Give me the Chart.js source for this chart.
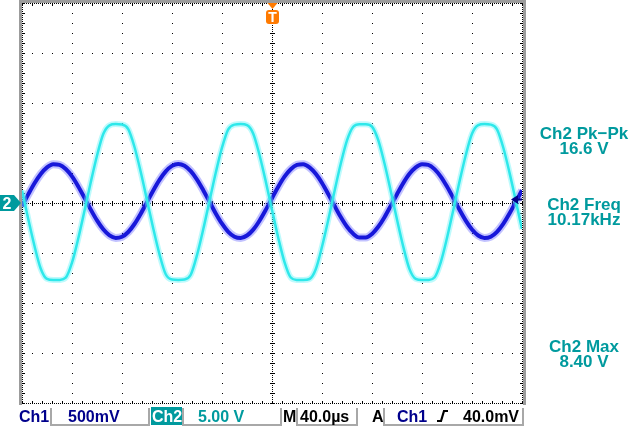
<!DOCTYPE html>
<html>
<head>
<meta charset="utf-8">
<title>Ch1 / Ch2</title>
<script src="https://cdn.jsdelivr.net/npm/chart.js@4.4.1/dist/chart.umd.min.js"></script>
<style>
  html, body { margin:0; padding:0; background:#fff; }
  canvas { display:block; }
</style>
</head>
<body>
<canvas id="scope" width="640" height="429"></canvas>
<script>
// tiempo en microsegundos (40 us/div, disparo en 0)
var tiempos = [-200,-195,-190,-185,-180,-175,-170,-165,-160,-155,-150,-145,-140,-135,-130,-125,-120,-115,-110,-105,
  -100,-95,-90,-85,-80,-75,-70,-65,-60,-55,-50,-45,-40,-35,-30,-25,-20,-15,-10,-5,
  0,5,10,15,20,25,30,35,40,45,50,55,60,65,70,75,80,85,90,95,
  100,105,110,115,120,125,130,135,140,145,150,155,160,165,170,175,180,185,190,195,200];

// Ch1 en mV (500 mV/div)
var ch1 = [-32,86,197,290,356,388,382,340,266,166,52,-66,-174,-263,-324,-349,-338,-290,-210,-107,
  8,125,231,316,371,390,372,318,234,128,12,-104,-207,-288,-337,-350,-325,-266,-177,-69,
  48,163,263,338,381,388,357,292,200,89,-28,-141,-238,-308,-345,-345,-309,-238,-142,-29,
  88,199,292,357,388,382,339,264,164,50,-68,-176,-265,-325,-350,-337,-288,-208,-105,11,127];

// Ch2 en V (5.00 V/div)
var ch2 = [1.26,-1.60,-4.30,-6.57,-7.59,-7.70,-7.69,-7.47,-5.97,-3.55,-0.77,2.08,4.73,6.89,7.77,7.89,7.85,7.39,5.60,3.10,
  0.29,-2.55,-5.14,-7.13,-7.66,-7.70,-7.66,-7.17,-5.21,-2.63,0.20,3.02,5.53,7.36,7.84,7.89,7.78,6.93,4.80,2.16,
  -0.69,-3.47,-5.91,-7.45,-7.69,-7.70,-7.60,-6.62,-4.38,-1.69,1.18,3.92,6.27,7.63,7.88,7.88,7.64,6.29,3.95,1.20,
  -1.66,-4.36,-6.61,-7.59,-7.70,-7.69,-7.45,-5.93,-3.50,-0.72,2.14,4.78,6.92,7.78,7.89,7.84,7.37,5.55,3.04,0.23,-2.61];

var divTiempo = [-200,-160,-120,-80,-40,0,40,80,120,160,200];
var divCh1 = [-2000,-1500,-1000,-500,0,500,1000,1500,2000];
var nivelDisparo = 40; // mV

var medidas = [
  ["Ch2 Pk\u2212Pk", "16.6 V"],
  ["Ch2 Freq", "10.17kHz"],
  ["Ch2 Max", "8.40 V"]
];

function puntos(ys){
  return tiempos.map(function(t, i){ return {x: t, y: ys[i]}; });
}

var AZUL = "#1818da", CIAN = "#2ee8ea", TEAL = "#009a9e", NAVY = "#00008c";

var reticula = {
  id: "reticula",
  beforeDraw: function(chart){
    var ctx = chart.ctx;
    ctx.save();
    ctx.fillStyle = "#fff";
    ctx.fillRect(0, 0, chart.width, chart.height);
    ctx.restore();
  },
  beforeDatasetsDraw: function(chart){
    var ctx = chart.ctx, sx = chart.scales.x, sy = chart.scales.y1;
    var L = Math.round(sx.getPixelForValue(sx.min)), R = Math.round(sx.getPixelForValue(sx.max));
    var T = Math.round(sy.getPixelForValue(sy.max)), B = Math.round(sy.getPixelForValue(sy.min));
    function dot(x, y, w, h){ ctx.fillRect(Math.round(x), Math.round(y), w || 1, h || 1); }
    var k, px, py;
    ctx.save();

    // marco gris
    ctx.fillStyle = "#9c9c9c";
    ctx.fillRect(L - 3, 0, 3, B + 2);
    ctx.fillRect(L - 3, 0, R - L + 6, T);
    ctx.fillRect(R + 1, 0, 3, B + 2);

    ctx.fillStyle = "#000";
    // lineas de division punteadas
    divTiempo.forEach(function(t){
      if (t === sx.min || t === sx.max || t === 0) return;
      px = sx.getPixelForValue(t);
      for (k = 0; k <= 40; k++) dot(px, sy.getPixelForValue(sy.min + k * 100));
    });
    divCh1.forEach(function(v){
      if (v === sy.min || v === sy.max || v === 0) return;
      py = sy.getPixelForValue(v);
      for (k = 0; k <= 50; k++) dot(sx.getPixelForValue(sx.min + k * 8), py);
    });

    // ejes centrales
    px = sx.getPixelForValue(0);
    for (k = 0; k <= 200; k++) {
      py = sy.getPixelForValue(sy.min + k * 20);
      dot(px, py);
      if (k % 5 === 0) dot(px - 2, py, 5, 1);
    }
    py = sy.getPixelForValue(0);
    for (k = 0; k <= 250; k++) {
      px = sx.getPixelForValue(sx.min + k * 1.6);
      dot(px, py);
      if (k % 5 === 0) dot(px, py - 2, 1, 5);
    }

    // borde con marcas
    for (k = 0; k <= 200; k++) {
      py = sy.getPixelForValue(sy.min + k * 20);
      dot(L, py); dot(R, py);
      if (k % 5 === 0) { dot(L, py, 3, 1); dot(R - 2, py, 3, 1); }
    }
    for (k = 0; k <= 250; k++) {
      px = sx.getPixelForValue(sx.min + k * 1.6);
      dot(px, T); dot(px, B);
      if (k % 5 === 0) { dot(px, T, 1, 3); dot(px, B - 2, 1, 3); }
    }
    ctx.restore();
  },
  afterDatasetsDraw: function(chart){
    var ctx = chart.ctx, sx = chart.scales.x, s1 = chart.scales.y1, s2 = chart.scales.y2;
    var L = sx.getPixelForValue(sx.min), R = sx.getPixelForValue(sx.max);
    ctx.save();

    // marcador de disparo T
    var tx = Math.round(sx.getPixelForValue(0)) + 0.5;
    ctx.fillStyle = "#ff7a00";
    ctx.beginPath();
    ctx.moveTo(tx - 5, 3); ctx.lineTo(tx + 5, 3); ctx.lineTo(tx, 9); ctx.closePath(); ctx.fill();
    ctx.beginPath();
    ctx.roundRect(tx - 6.5, 10, 13, 14, 3);
    ctx.fill();
    ctx.fillStyle = "#fff";
    ctx.font = "bold 14px 'Liberation Sans', Arial, sans-serif";
    ctx.textAlign = "center";
    ctx.textBaseline = "alphabetic";
    ctx.fillText("T", tx, 22);

    // marcador de tierra Ch2
    var gy = Math.round(s2.getPixelForValue(0));
    ctx.fillStyle = TEAL;
    ctx.beginPath();
    ctx.moveTo(0, gy - 8); ctx.lineTo(L - 8, gy - 8); ctx.lineTo(L - 1, gy);
    ctx.lineTo(L - 8, gy + 8); ctx.lineTo(0, gy + 8); ctx.closePath(); ctx.fill();
    ctx.fillStyle = "#fff";
    ctx.font = "bold 16px 'Liberation Sans', Arial, sans-serif";
    ctx.fillText("2", 7, gy + 6);

    // nivel de disparo Ch1
    var ny = Math.round(s1.getPixelForValue(nivelDisparo)) + 0.5;
    ctx.fillStyle = NAVY;
    ctx.beginPath();
    ctx.moveTo(R - 11, ny); ctx.lineTo(R - 4, ny - 4.5); ctx.lineTo(R - 4, ny + 4.5); ctx.closePath(); ctx.fill();
    ctx.fillRect(R - 5, ny - 1, 5, 2);
    ctx.restore();
  },
  afterDraw: function(chart){
    var ctx = chart.ctx;
    ctx.save();
    ctx.textBaseline = "alphabetic";

    // lecturas de medida a la derecha
    ctx.font = "bold 17px 'Liberation Sans', Arial, sans-serif";
    ctx.textAlign = "center";
    ctx.fillStyle = TEAL;
    var filas = [139, 210, 352];
    medidas.forEach(function(m, i){
      ctx.fillText(m[0], 584, filas[i]);
      ctx.fillText(m[1], 584, filas[i] + 15);
    });

    // barra inferior
    ctx.textAlign = "left";
    ctx.font = "bold 16px 'Liberation Sans', Arial, sans-serif";
    ctx.strokeStyle = "#a8a8a8";
    ctx.lineWidth = 2;
    [[51, 149], [183, 281], [297, 357], [384, 523]].forEach(function(b){
      ctx.beginPath();
      ctx.moveTo(b[0], 408); ctx.lineTo(b[0], 425); ctx.lineTo(b[1], 425); ctx.lineTo(b[1], 408);
      ctx.stroke();
    });
    ctx.fillStyle = NAVY;
    ctx.fillText("Ch1", 19, 422);
    ctx.fillText("500mV", 68, 422);
    ctx.fillStyle = TEAL;
    ctx.fillRect(151, 407, 31, 18);
    ctx.fillText("5.00 V", 198, 422);
    ctx.fillStyle = "#fff";
    ctx.fillText("Ch2", 152, 422);
    ctx.fillStyle = "#000";
    ctx.fillText("M", 283, 422);
    ctx.fillText("40.0\u00b5s", 300, 422);
    ctx.fillText("A", 372, 422);
    ctx.fillText("40.0mV", 463, 422);
    ctx.fillStyle = NAVY;
    ctx.fillText("Ch1", 397, 422);
    // simbolo de flanco ascendente
    ctx.strokeStyle = "#000";
    ctx.lineWidth = 2.2;
    ctx.beginPath();
    ctx.moveTo(437, 421); ctx.lineTo(441, 421); ctx.lineTo(444, 411); ctx.lineTo(448, 411);
    ctx.stroke();
    ctx.restore();
  }
};

var ctx = document.getElementById("scope").getContext("2d");
window.scope = new Chart(ctx, {
  type: "line",
  data: {
    datasets: [
      { label: "Ch2", data: puntos(ch2), yAxisID: "y2", borderColor: CIAN, borderWidth: 2.5, order: 0 },
      { label: "Ch2 halo", data: puntos(ch2), yAxisID: "y2", borderColor: "rgba(110,245,248,0.45)", borderWidth: 6, order: 1 },
      { label: "Ch1", data: puntos(ch1), yAxisID: "y1", borderColor: AZUL, borderWidth: 4, order: 2 },
      { label: "Ch1 halo", data: puntos(ch1), yAxisID: "y1", borderColor: "rgba(80,80,255,0.35)", borderWidth: 8, order: 3 }
    ]
  },
  options: {
    responsive: false,
    animation: false,
    devicePixelRatio: 1,
    layout: { padding: { left: 22, right: 118, top: 3, bottom: 26 } },
    elements: {
      point: { radius: 0 },
      line: { cubicInterpolationMode: "monotone", fill: false }
    },
    scales: {
      x: { type: "linear", min: -200, max: 200, display: false },
      y1: { type: "linear", min: -2000, max: 2000, display: false },
      y2: { type: "linear", min: -20, max: 20, display: false }
    },
    plugins: {
      legend: { display: false },
      tooltip: { enabled: false }
    }
  },
  plugins: [reticula]
});
</script>
</body>
</html>
